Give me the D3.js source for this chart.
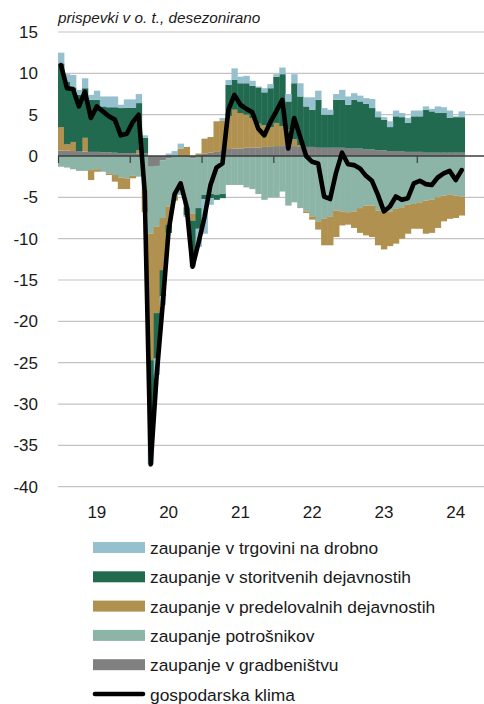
<!DOCTYPE html>
<html><head><meta charset="utf-8">
<script src="https://cdn.jsdelivr.net/npm/d3@7"></script>
<style>
html,body{margin:0;padding:0;background:#fff;}
text{font-family:"Liberation Sans",Arial,sans-serif;fill:#1a1a1a;}
</style></head>
<body><svg id="c" width="484" height="704"></svg>
<script>
// months Jan 2019 .. Aug 2024 (axis runs to Dec 2024)
const years = ["19","20","21","22","23","24"];
const axisMonths = [];
years.forEach(yy => { for (let m = 1; m <= 12; m++) axisMonths.push(m + "/" + yy); });
const months = axisMonths.slice(0, 68);

const gradbenistvo = [0.65,0.65,0.6,0.6,0.55,0.5,0.5,0.45,0.45,0.4,0.35,0.35, 0.35,0.3,0.3,-1.3,-1.2,-0.5,-0.3,-0.1,-0.1,-0.2,-0.3,0.1, 0.3,0.4,0.5,0.7,0.85,0.9,0.9,1.0,1.0,1.0,1.1,1.1, 1.2,1.2,1.2,1.2,1.1,1.1,1.1,1.0,1.0,1.0,1.0,1.0, 0.9,0.9,0.9,0.8,0.8,0.7,0.7,0.6,0.6,0.6,0.5,0.5, 0.5,0.4,0.4,0.4,0.4,0.4,0.4,0.4];
const potrosniki = [-1.3,-1.4,-1.6,-1.8,-1.8,-1.7,-1.6,-1.9,-2.1,-2.3,-2.6,-2.7, -2.4,-2.5,-4.1,-8.1,-7.3,-7.0,-5.8,-4.9,-4.6,-6.0,-6.7,-6.3, -4.7,-4.6,-4.7,-4.6,-3.5,-3.5,-3.5,-3.8,-4.0,-4.6,-5.3,-5.0, -5.0,-4.3,-6.0,-5.6,-6.3,-6.7,-7.3,-7.9,-7.6,-7.3,-6.6,-6.7, -6.8,-6.7,-6.3,-6.0,-6.0,-6.6,-6.9,-6.7,-6.4,-6.2,-5.9,-5.8, -5.6,-5.4,-5.3,-5.0,-4.8,-4.7,-4.8,-4.9];
const predelovalne = [2.85,0.75,1.1,0,1.65,-1.2,-0.3,0,-0.2,-0.8,-1.4,-1.3, -0.3,0.4,-2.7,-15.3,-10.5,-6.3,-2.2,-0.4,0.9,1.1,-0.8,0.2, 1.8,1.9,3.7,3.6,3.95,4.7,4.3,4.0,3.6,2.9,2.6,2.4, 2.8,2.4,2.0,0.8,0.2,-0.2,-0.4,-1.0,-3.2,-3.5,-3.2,-1.7, -1.5,-2.0,-3.0,-3.6,-3.8,-4.2,-4.4,-4.2,-4.2,-3.8,-3.5,-3.0, -3.2,-4.0,-4.0,-3.7,-3.1,-2.9,-2.7,-2.3];
const storitve = [7.7,7.6,6.6,6.8,6.0,6.3,6.3,5.55,5.45,5.5,5.45,5.5, 5.5,5.7,1.9,-6.6,-5.5,-3.2,-1.0,0,0,-1.0,-4.0,-2.5, -0.5,-0.5,-0.6,-0.5,3.8,3.6,3.6,3.8,3.9,4.4,4.0,4.7, 5.6,6.3,3.4,6.8,5.9,4.9,4.5,5.8,4.0,4.0,5.8,5.8, 5.3,5.9,5.7,5.5,5.0,4.0,3.7,2.9,4.2,4.1,3.5,4.3, 4.3,5.2,5.0,4.8,4.8,4.2,4.3,4.3];
const trgovina = [1.3,0.9,1.5,0.6,1.2,0.6,1.1,1.2,1.3,1.3,0.4,1.0, 1.0,1.1,0.3,-6.0,-2.0,-1.0,0.3,0.6,0.6,-0.2,-1.6,-2.2, -4.2,-0.8,0,0.3,0.6,1.4,0.8,0.9,0.6,0.1,0.5,0.5, 0.3,0.8,0.9,1.1,1.6,1.1,1.5,1.1,0.8,0.6,0.7,1.2, 1.0,0.8,0.7,0.7,1.1,0.7,0.3,0.7,0.7,0.5,0.6,0.7, 0.7,0.4,0.3,0.8,0.7,0.9,0.1,0.7];
const klima = [11.0,8.2,8.1,6.0,7.8,4.6,6.0,5.4,4.8,4.4,2.5,2.7, 4.1,5.0,-4.3,-37.3,-26.5,-18.0,-9.0,-4.6,-3.3,-6.1,-13.4,-10.5, -7.4,-3.5,-1.4,-0.9,5.6,7.4,6.2,5.7,5.3,3.3,2.5,4.1, 5.4,6.8,0.9,4.6,2.3,0.0,-0.7,-0.9,-4.9,-5.2,-2.0,0.4, -1.0,-1.1,-1.5,-2.4,-3.0,-4.7,-6.7,-6.1,-4.9,-5.3,-5.1,-3.3, -3.0,-3.4,-3.5,-2.6,-2.1,-1.8,-2.9,-1.7];

const yTicks = [-40,-35,-30,-25,-20,-15,-10,-5,0,5,10,15];
const title = "prispevki v o. t., desezonirano";

const seriesKeys = ["grad","potr","pred","stor","trg"];
const seriesNames = {
  trg: "zaupanje v trgovini na drobno",
  stor: "zaupanje v storitvenih dejavnostih",
  pred: "zaupanje v predelovalnih dejavnostih",
  potr: "zaupanje potrošnikov",
  grad: "zaupanje v gradbeništvu"
};
const colors = {trg:"#96c0cd", stor:"#216a4f", pred:"#b0914f", potr:"#8db5a7", grad:"#808080"};
const lineName = "gospodarska klima";

const rows = months.map((m,i) => ({m, grad:gradbenistvo[i], potr:potrosniki[i], pred:predelovalne[i], stor:storitve[i], trg:trgovina[i]}));

const svg = d3.select("#c");
const x = d3.scaleBand().domain(axisMonths).range([58, 58 + 5.98*72]).padding(0);
const y = d3.scaleLinear().domain([-40, 15]).range([486.7, 32]);
const bw = x.bandwidth();

// gridlines
svg.append("g").selectAll("line").data(yTicks.filter(t => t !== 0)).join("line")
  .attr("x1", 58).attr("x2", 490).attr("y1", d => y(d)).attr("y2", d => y(d))
  .attr("stroke", "#c3c3c3").attr("stroke-width", 1.2);

// y labels
svg.append("g").selectAll("text").data(yTicks).join("text")
  .attr("x", 38).attr("y", d => y(d)).attr("dy", "0.36em").attr("text-anchor", "end")
  .attr("font-size", 17).text(d => d);

// bars
const stacked = d3.stack().keys(seriesKeys).offset(d3.stackOffsetDiverging)(rows);
svg.append("g").selectAll("g").data(stacked).join("g").attr("fill", d => colors[d.key])
  .selectAll("rect").data(d => d).join("rect")
  .attr("x", d => x(d.data.m)).attr("width", bw + 0.4)
  .attr("y", d => y(Math.max(d[0], d[1])))
  .attr("height", d => Math.abs(y(d[0]) - y(d[1])));

// zero axis + ticks
svg.append("line").attr("x1", 58).attr("x2", 490).attr("y1", y(0)).attr("y2", y(0))
  .attr("stroke", "#3c3c3c").attr("stroke-width", 1.4);
const yearStarts = years.map(yy => "1/" + yy);
svg.append("g").selectAll("line").data(yearStarts).join("line")
  .attr("x1", d => x(d) + 0.5).attr("x2", d => x(d) + 0.5)
  .attr("y1", y(0)).attr("y2", y(0) + 7).attr("stroke", "#3c3c3c").attr("stroke-width", 1.2);

// x labels (centered on July)
svg.append("g").selectAll("text").data(years).join("text")
  .attr("x", d => x("7/" + d) + bw/2).attr("y", 518).attr("text-anchor", "middle")
  .attr("font-size", 17).text(d => d);

// line
const line = d3.line().x((d,i) => x(months[i]) + bw/2).y(d => y(d));
svg.append("path").datum(klima).attr("d", line).attr("fill", "none")
  .attr("stroke", "#000").attr("stroke-width", 4.6)
  .attr("stroke-linejoin", "round").attr("stroke-linecap", "round");

// title
svg.append("text").attr("x", 58).attr("y", 22.5).attr("font-size", 15.3)
  .attr("font-style", "italic").text(title);

// legend
const legendKeys = ["trg","stor","pred","potr","grad"];
const lg = svg.append("g");
legendKeys.forEach((k, i) => {
  const cy = 547.5 + i*29.3;
  lg.append("rect").attr("x", 93).attr("y", cy - 5.5).attr("width", 52).attr("height", 11).attr("fill", colors[k]);
  lg.append("text").attr("x", 150).attr("y", cy + 6.5).attr("font-size", 17.4).text(seriesNames[k]);
});
{
  const cy = 547.5 + 5*29.3;
  lg.append("line").attr("x1", 95).attr("x2", 143).attr("y1", cy).attr("y2", cy)
    .attr("stroke", "#000").attr("stroke-width", 4.6).attr("stroke-linecap", "round");
  lg.append("text").attr("x", 150).attr("y", cy + 6.5).attr("font-size", 17.4).text(lineName);
}
</script></body></html>
